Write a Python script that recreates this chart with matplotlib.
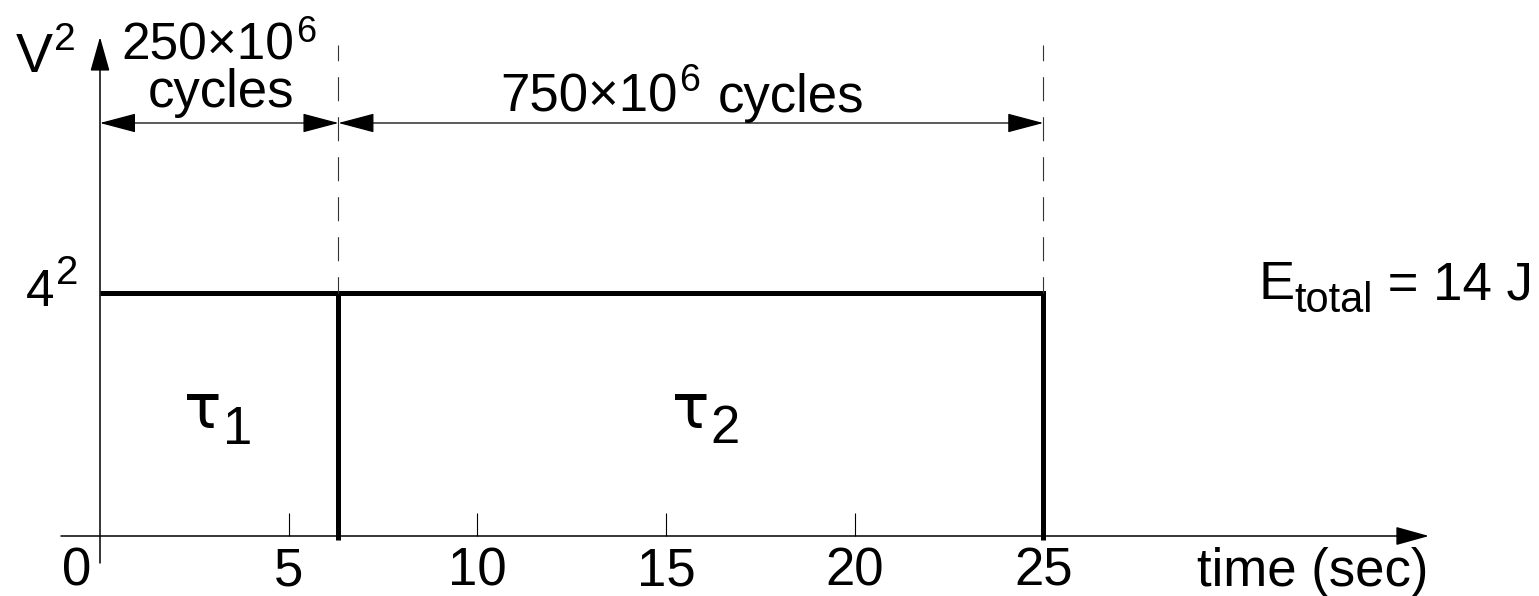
import matplotlib
matplotlib.use('Agg')
import matplotlib.pyplot as plt

plt.rcParams['font.family'] = ['Liberation Sans', 'DejaVu Sans']
plt.rcParams['lines.scale_dashes'] = False

# ---------------- data ----------------
phase_symbols = ['τ', 'τ']
phase_subs = ['1', '2']
phase_cycles = [250, 750]          # x10^6 cycles
t_switch = 6.32                    # sec, end of phase 1
t_end = 25.0                       # sec, end of phase 2
v_level = 4                        # volts
v_sq = v_level ** 2
x_ticks = [0, 5, 10, 15, 20, 25]
e_total = 14                       # J

# ---------------- layout ----------------
W, H, DPI = 1539, 596, 100
fig = plt.figure(figsize=(W / DPI, H / DPI), dpi=DPI)
ax = fig.add_axes([0, 0, 1, 1])
PX_T, X0 = 37.73, 100.0
PX_V, Y0 = 243.0 / 16.0, 536.0
ax.set_xlim(-X0 / PX_T, (W - X0) / PX_T)
ax.set_ylim(-(H - Y0) / PX_V, Y0 / PX_V)
ax.axis('off')
renderer = fig.canvas.get_renderer()


def P(xp, yp):
    return ((xp - X0) / PX_T, (Y0 - yp) / PX_V)


def arrow(start, end, style, hl, hw, lw):
    ax.annotate('', xy=end, xytext=start, xycoords='data', textcoords='data',
                arrowprops=dict(arrowstyle=f'{style},head_length={hl},head_width={hw}',
                                mutation_scale=1, lw=lw, color='black',
                                shrinkA=0, shrinkB=0))


def T(xp, yp, s, size, ha='left', **kw):
    x, y = P(xp, yp)
    return ax.text(x, y, s, fontsize=size, ha=ha, va='baseline', color='black', **kw)


def after(txt, yp, s, size, gap=0, **kw):
    bb = txt.get_window_extent(renderer)
    return T(bb.x1 + gap, yp, s, size, **kw)


# axes
arrow(P(61, 536), P(1429, 536), '-|>', 20.9, 5.8, 1.1)
arrow(P(100, 563), P(100, 37), '-|>', 21.6, 6.1, 1.1)

# ticks
for t in x_ticks[1:-1]:
    ax.plot([t, t], [0, 23 / PX_V], lw=0.8, color='black', solid_capstyle='butt')

# tick labels
for t in x_ticks:
    off = -23 / PX_T if t == 0 else 0.0
    ax.text(t + off, P(0, 586)[1], str(t), fontsize=38, ha='center', va='baseline')

# power profile
y_below = P(0, 540)[1]
ax.plot([0, t_end, t_end], [v_sq, v_sq, y_below], lw=3.6, color='black',
        solid_joinstyle='miter', solid_capstyle='butt')
ax.plot([t_switch, t_switch], [v_sq, y_below], lw=3.6, color='black',
        solid_capstyle='butt')

# dashed guides
y_top = P(0, 45)[1]
for t in [t_switch, t_end]:
    ax.plot([t, t], [y_top, v_sq], lw=0.8, color='#333333',
            linestyle=(6, (17.3, 11.5)))

# dimension arrows
y_dim = P(0, 123)[1]
arrow((0, y_dim), (t_switch, y_dim), '<|-|>', 23, 6.1, 0.9)
arrow((t_switch, y_dim), (t_end, y_dim), '<|-|>', 23, 6.1, 0.9)

# texts
tv = T(16, 72, 'V', 40)
after(tv, 50, '2', 28, gap=1)
t4 = T(26, 306, str(v_level), 37)
after(t4, 284, '2', 29, gap=1)

t250 = T(121, 60, f'{phase_cycles[0]}×10', 37)
after(t250, 42, '6', 26, gap=2)
T(221, 107, 'cycles', 38, ha='center')

t750 = T(500, 112, f'{phase_cycles[1]}×10', 38)
t6 = after(t750, 91, '6', 27, gap=2)
after(t6, 112, 'cycles', 38, gap=17)

for xs, ys, sym, sub in [(184, 444, phase_symbols[0], phase_subs[0]),
                         (672, 443, phase_symbols[1], phase_subs[1])]:
    ts = T(xs, 428, sym, 45, family=['DejaVu Sans'])
    after(ts, ys, sub, 38, gap=1)

T(1197, 586, 'time (sec)', 38)

tE = T(1258, 299, 'E', 39)
tt = after(tE, 312, 'total', 30, gap=0)
after(tt, 299, f' = {e_total} J', 38, gap=0)

fig.savefig('out.png', dpi=DPI)
